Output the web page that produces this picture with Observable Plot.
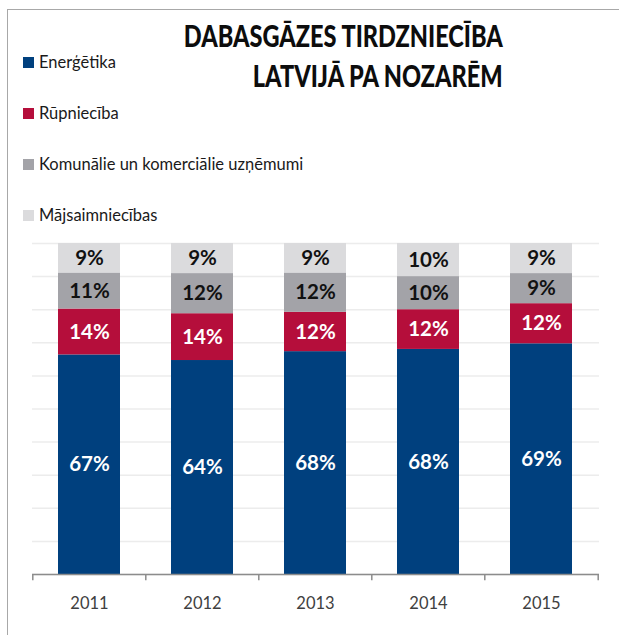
<!DOCTYPE html>
<html><head><meta charset="utf-8">
<script src="https://cdn.jsdelivr.net/npm/d3@7"></script>
<script src="https://cdn.jsdelivr.net/npm/@observablehq/plot@0.6"></script>
<style>
body{margin:0;overflow:hidden;background:#fff;font-family:Lato,sans-serif}
#wrap{position:relative;width:619px;height:635px;overflow:hidden;background:#fff}
#frame{position:absolute;left:7px;top:9px;width:700px;height:700px;border:1px solid #a8a8a8;box-sizing:border-box}
#chart{position:absolute;left:0;top:0}
.t{position:absolute;right:116px;font-weight:900;font-size:30px;line-height:1;color:#0d0d0d;white-space:nowrap;transform-origin:right center}
.leg{position:absolute;left:23px;height:20px;display:flex;align-items:center;font-size:16.5px;color:#1a1a1a;white-space:nowrap}
.leg span{display:inline-block;width:11px;height:11px;margin-right:5px}
</style></head>
<body><div id="wrap"><div id="frame"></div><div id="chart"></div>
<div class="t" id="t1" style="top:20px">DABASGĀZES TIRDZNIECĪBA</div>
<div class="t" id="t2" style="top:60px">LATVIJĀ PA NOZARĒM</div>
<div id="legend"></div>
</div>
<script>
const years = ["2011","2012","2013","2014","2015"];
const sectors = ["Enerģētika","Rūpniecība","Komunālie un komerciālie uzņēmumi","Mājsaimniecības"];
const energetika = [67,64,68,68,69];
const rupnieciba = [14,14,12,12,12];
const komunalie = [11,12,12,10,9];
const majsaimniecibas = [9,9,9,10,9];
const colors = ["#00407E","#B50E3B","#A3A3A8","#DBDBDD"];

const series = [energetika, rupnieciba, komunalie, majsaimniecibas];
const data = [];
sectors.forEach((s, si) => years.forEach((y, yi) => data.push({year: y, sector: s, si, v: series[si][yi]})));

const W = 619, H = 635, ml = 32, mr = 20, mt = 243, mb = 61;
const step = (W - ml - mr) / years.length;

const stackOpts = {x: "year", y: "v", z: "sector", offset: "normalize", order: sectors};

const plot = Plot.plot({
  width: W, height: H,
  marginLeft: ml, marginRight: mr, marginTop: mt, marginBottom: mb,
  style: {fontFamily: "Lato, sans-serif", background: "transparent", overflow: "visible"},
  x: {domain: years, paddingInner: 0.45, paddingOuter: 0.225, axis: null},
  y: {domain: [0, 1], axis: null},
  color: {domain: sectors, range: colors},
  marks: [
    Plot.gridY({ticks: d3.range(0, 1.01, 0.1), stroke: "#ececec", strokeOpacity: 1, strokeWidth: 1.5}),
    Plot.barY(data, Plot.stackY({...stackOpts, fill: "sector"})),
    Plot.ruleY([0], {stroke: "#8c8c8c", strokeWidth: 1.5}),
    Plot.ruleX(years, {x: d => d, y1: 0, y2: -0.019, dx: -step / 2, stroke: "#8c8c8c", strokeWidth: 1.5}),
    Plot.ruleX([years[years.length - 1]], {x: d => d, y1: 0, y2: -0.019, dx: step / 2, stroke: "#8c8c8c", strokeWidth: 1.5}),
    Plot.text(data, Plot.stackY({...stackOpts, text: d => d.si < 2 ? d.v + "%" : null, fill: "white", fontSize: 20.5, fontWeight: 700})),
    Plot.text(data, Plot.stackY({...stackOpts, text: d => d.si >= 2 ? d.v + "%" : null, fill: "#111", fontSize: 20.5, fontWeight: 700})),
    Plot.axisX({tickSize: 0, tickPadding: 23, fontSize: 16.5, color: "#404040", label: null})
  ]
});
document.getElementById("chart").appendChild(plot);

const legend = document.getElementById("legend");
sectors.forEach((s, i) => {
  const d = document.createElement("div");
  d.className = "leg";
  d.style.top = (52 + i * 51) + "px";
  d.innerHTML = `<span style="background:${colors[i]}"></span>${s}`;
  legend.appendChild(d);
});

// condense title to match reference width
const targetW = 319;
const sc = targetW / document.getElementById("t1").getBoundingClientRect().width;
["t1", "t2"].forEach(id => {
  document.getElementById(id).style.transform = `scaleX(${sc})`;
});
</script>
</body></html>
